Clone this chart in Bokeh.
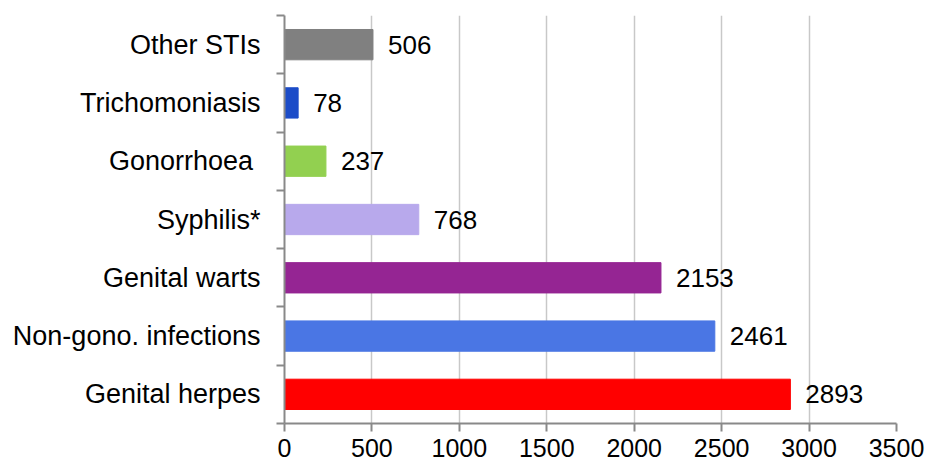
from bokeh.plotting import figure
from bokeh.models import ColumnDataSource, FixedTicker, Range1d
from bokeh.core.properties import value
from bokeh.embed import file_html
from bokeh.resources import INLINE

# data (bottom to top)
categories = ["Genital herpes", "Non-gono. infections", "Genital warts", "Syphilis*",
              "Gonorrhoea\u00a0", "Trichomoniasis", "Other STIs"]
counts = [2893, 2461, 2153, 768, 237, 78, 506]
bar_colors = ["#ff0000", "#4a76e4", "#952593", "#b8a9ec", "#92d050", "#1c4cc8", "#808080"]
x_ticks = [0, 500, 1000, 1500, 2000, 2500, 3000, 3500]

pos = list(range(len(categories)))
src = ColumnDataSource(dict(y=pos, v=counts, c=bar_colors, t=[str(v) for v in counts]))

FONT = "Liberation Sans"

p = figure(width=930, height=466, output_backend="svg", toolbar_location=None,
           x_range=Range1d(0, 3500), y_range=Range1d(-0.5, len(categories) - 0.5),
           min_border_left=284, min_border_right=34, min_border_top=15, min_border_bottom=43)
p.outline_line_color = None
p.background_fill_color = "white"
p.border_fill_color = "white"

p.hbar(y="y", left=0, right="v", height=0.52, color="c", source=src)
p.text(x="v", y="y", text="t", x_offset=15, text_baseline="middle", text_align="left",
       text_font=value(FONT), text_font_size="26px", text_color="black", source=src)

# x axis
xa = p.xaxis[0]
xa.ticker = FixedTicker(ticks=x_ticks, minor_ticks=[])
xa.axis_line_color = "#898989"
xa.axis_line_width = 2
xa.major_tick_line_color = "#898989"
xa.major_tick_line_width = 2
xa.major_tick_out = 8
xa.major_tick_in = 0
xa.minor_tick_out = 0
xa.minor_tick_in = 0
xa.major_label_standoff = 7
xa.major_label_text_font = FONT
xa.major_label_text_font_size = "25px"
xa.major_label_text_color = "black"

# y axis
ya = p.yaxis[0]
ya.ticker = FixedTicker(ticks=pos, minor_ticks=[i - 0.5 for i in range(len(categories) + 1)])
ya.major_label_overrides = {i: c for i, c in zip(pos, categories)}
ya.axis_line_color = "#898989"
ya.axis_line_width = 2
ya.major_tick_out = 0
ya.major_tick_in = 0
ya.minor_tick_line_color = "#898989"
ya.minor_tick_line_width = 2
ya.minor_tick_out = 8
ya.minor_tick_in = 0
ya.major_label_standoff = 16
ya.major_label_text_font = FONT
ya.major_label_text_font_size = "27px"
ya.major_label_text_color = "black"

p.xgrid.ticker = FixedTicker(ticks=x_ticks)
p.xgrid.grid_line_color = "#c8c8c8"
p.xgrid.grid_line_width = 1.5
p.ygrid.grid_line_color = None

open("out.html", "w").write(file_html(p, INLINE))
